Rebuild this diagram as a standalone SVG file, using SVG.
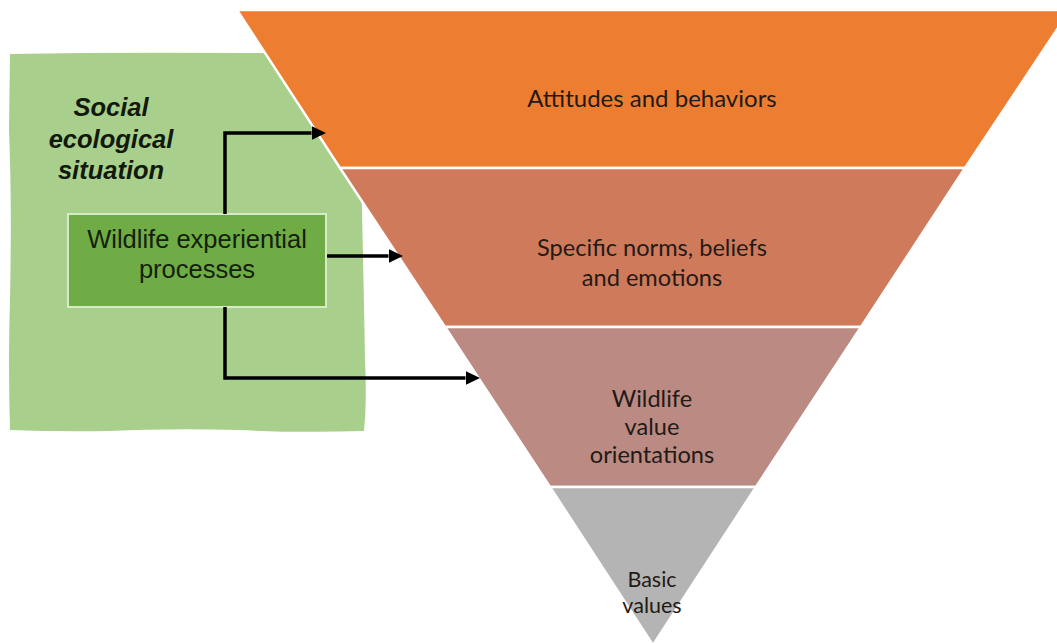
<svg xmlns="http://www.w3.org/2000/svg" width="1057" height="643" viewBox="0 0 1057 643">
  <style>
    .band { stroke: #ffffff; stroke-width: 2.5; stroke-linejoin: miter; }
    .lvl { font-family: Lato, "Carlito", "Open Sans", sans-serif; fill: #231a16; text-anchor: middle; }
    .box-text { font-family: "Liberation Sans", Arial, sans-serif; font-size: 25.5px; fill: #14200c; text-anchor: middle; }
    .ctx-text { font-family: "Liberation Sans", Arial, sans-serif; font-size: 25.5px; font-weight: bold; font-style: italic; fill: #111a0a; text-anchor: middle; }
    .link { fill: none; stroke: #000000; stroke-width: 3.5; stroke-linejoin: miter; }
  </style>
  <defs>
    <marker id="head" markerUnits="userSpaceOnUse" markerWidth="15" markerHeight="14" refX="0" refY="7" orient="auto">
      <path d="M0,0 L14.5,7 L0,14 Z" fill="#000000"/>
    </marker>
  </defs>

  <rect width="1057" height="643" fill="#ffffff"/>

  <!-- hand-drawn context area -->
  <g id="context">
    <path d="M10,54 Q120,52 240,53 T366,52 L363,120 Q360,170 362,210 Q364,300 365,360 Q367,400 364,431 Q300,433 240,430 Q170,428 110,431 Q60,432 10,430 Q8,360 10,300 Q12,200 9,130 Z" fill="#a9cf8c"/>
    <text class="ctx-text" x="111" y="116">Social</text>
    <text class="ctx-text" x="111" y="148">ecological</text>
    <text class="ctx-text" x="111" y="179">situation</text>
  </g>

  <!-- inverted pyramid levels -->
  <g id="level-attitudes">
    <polygon class="band" points="237,10 1070,10 965,168 340,168" fill="#ed7d31"/>
    <text class="lvl" x="652" y="107" font-size="24">Attitudes and behaviors</text>
  </g>
  <g id="level-norms">
    <polygon class="band" points="340,168 965,168 861,327 445,327" fill="#d07a5c"/>
    <text class="lvl" x="652" y="256" font-size="23.6">Specific norms, beliefs</text>
    <text class="lvl" x="652" y="286" font-size="23.6">and emotions</text>
  </g>
  <g id="level-orientations">
    <polygon class="band" points="445,327 861,327 756,487 550,487" fill="#bb8a82"/>
    <text class="lvl" x="652" y="407" font-size="23.6">Wildlife</text>
    <text class="lvl" x="652" y="435" font-size="23.6">value</text>
    <text class="lvl" x="652" y="463" font-size="23.6">orientations</text>
  </g>
  <g id="level-basic">
    <polygon class="band" points="550,487 756,487 653,645" fill="#b4b4b4"/>
    <text class="lvl" x="652" y="587" font-size="21.5">Basic</text>
    <text class="lvl" x="652" y="613" font-size="21.5">values</text>
  </g>

  <!-- central process box -->
  <g id="processes">
    <rect x="68" y="214" width="258" height="93" fill="#6fac46" stroke="#d6ebc6" stroke-width="2"/>
    <text class="box-text" x="197" y="248">Wildlife experiential</text>
    <text class="box-text" x="197" y="278">processes</text>
  </g>

  <!-- connectors -->
  <g id="connectors">
    <path class="link" d="M225,214 V133 H311.5" marker-end="url(#head)"/>
    <path class="link" d="M327,256 H388.5" marker-end="url(#head)"/>
    <path class="link" d="M225,307 V378 H465.5" marker-end="url(#head)"/>
  </g>
</svg>
